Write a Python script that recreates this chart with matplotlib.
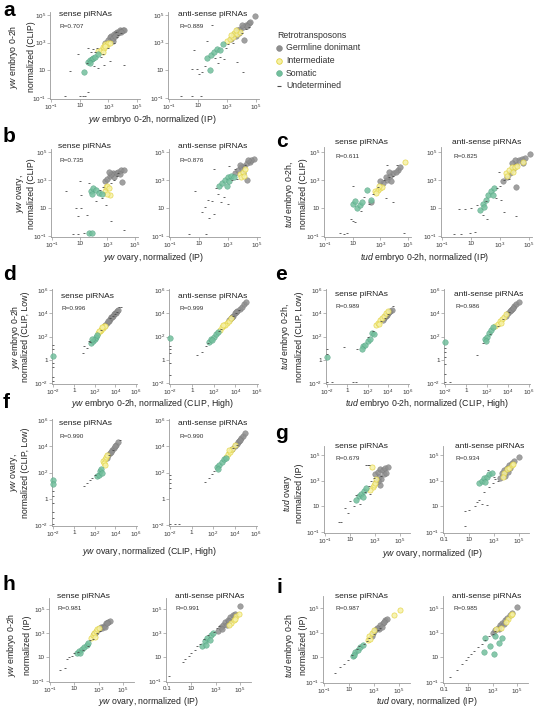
import numpy as np
import matplotlib
matplotlib.use("Agg")
import matplotlib.pyplot as plt
from matplotlib.lines import Line2D

plt.rcParams['font.family'] = 'Liberation Sans'
plt.rcParams['mathtext.fontset'] = 'custom'
plt.rcParams['mathtext.rm'] = 'Liberation Sans'
plt.rcParams['mathtext.it'] = 'Liberation Sans:italic'

# values are log10 (x, y) pairs
A_S_GERM = [(2.8, 3.0), (3.0, 3.2), (3.1, 3.4), (3.2, 3.5), (3.3, 3.1), (3.4, 3.6), (3.5, 3.7), (3.6, 3.8),
            (3.7, 3.7), (3.8, 3.9), (3.9, 3.85), (4.0, 3.9), (4.1, 3.95), (3.85, 3.75), (3.3, 3.35), (3.45, 3.45)]
A_S_INT = [(2.3, 2.4), (2.5, 2.5), (2.6, 2.7), (2.7, 2.6), (2.8, 2.9), (2.9, 2.8), (3.0, 2.95), (3.1, 3.0),
           (2.6, 2.35), (2.75, 2.75)]
A_S_SOM = [(1.3, 0.9), (1.6, 1.6), (1.7, 1.75), (1.85, 1.8), (1.95, 1.9), (2.1, 2.0), (2.25, 2.15), (1.75, 1.5)]
A_S_UND = [(0.85, 2.2), (0.3, 0.95), (1.6, 2.6), (1.9, 2.55), (2.1, 2.3), (2.5, 2.0), (3.1, 1.7), (2.7, 1.4),
           (4.1, 1.4), (2.3, 1.2), (1.5, 1.5), (2.0, 1.3), (0.0, -0.85), (1.2, -0.85), (1.35, -0.85),
           (1.55, -0.6), (1.0, -0.85), (2.6, 2.2), (3.0, 2.6), (3.4, 3.0), (3.6, 3.4), (3.7, 3.55), (2.2, 2.6),
           (1.8, 2.3), (3.5, 3.75), (3.9, 3.7)]

A_A_GERM = [(4.9, 4.95), (4.2, 3.2), (3.3, 3.3), (3.5, 3.6), (3.7, 3.9), (3.9, 4.0), (4.1, 4.1), (4.3, 4.3),
            (4.5, 4.4), (4.6, 4.5), (4.4, 4.2), (3.8, 3.7), (4.0, 4.3), (3.6, 3.5)]
A_A_INT = [(3.0, 3.1), (3.2, 3.3), (3.4, 3.4), (3.5, 3.7), (3.7, 3.6), (3.9, 3.8), (3.3, 3.55), (3.6, 3.9)]
A_A_SOM = [(1.6, 1.9), (1.9, 2.1), (2.1, 2.3), (2.3, 2.55), (2.5, 2.5), (2.7, 2.9), (1.85, 1.05)]
A_A_UND = [(0.7, 2.5), (1.6, 3.1), (1.95, 4.3), (0.6, 1.1), (0.9, 1.1), (1.1, 0.75), (1.3, 0.9), (4.1, 0.85),
           (3.7, 1.6), (2.8, 1.8), (2.5, 2.0), (-0.2, -0.85), (0.6, -0.85), (1.2, -0.85), (2.4, 1.5),
           (2.2, 1.9), (3.1, 2.9), (3.4, 3.0), (4.0, 3.7), (4.3, 4.0), (4.5, 4.1), (2.9, 2.6), (1.5, 1.3)]

B_S_GERM = [(2.8, 2.9), (3.0, 3.1), (3.2, 3.3), (3.4, 3.5), (3.6, 3.5), (3.8, 3.6), (4.0, 3.7), (4.2, 3.7),
            (4.07, 2.87), (3.5, 3.2), (3.3, 3.45), (3.9, 3.4), (3.1, 3.6)]
B_S_INT = [(2.8, 2.2), (2.9, 2.5), (3.0, 2.6), (3.1, 2.4), (3.2, 1.9), (2.95, 2.0)]
B_S_SOM = [(1.8, 2.2), (2.0, 2.4), (2.2, 2.3), (2.4, 2.1), (2.6, 2.0), (1.9, 2.0), (1.7, -0.75), (1.9, -0.8)]
B_S_UND = [(1.0, 2.9), (1.1, 1.9), (1.1, 1.0), (0.7, 1.0), (0.9, 0.4), (1.5, 0.5), (2.6, 1.7), (2.9, 1.2),
           (3.3, 0.1), (4.2, -0.6), (0.5, -0.85), (0.9, -0.85), (1.3, -0.8), (0.0, 2.2), (1.7, 2.8),
           (2.2, 1.5), (2.5, 2.3), (3.3, 2.8), (3.5, 3.0), (3.7, 3.3), (3.8, 3.5), (2.7, 2.5)]

B_A_GERM = [(4.8, 4.5), (3.5, 3.5), (3.7, 3.7), (3.9, 3.9), (4.1, 4.0), (4.3, 4.2), (4.5, 4.3), (4.6, 4.4),
            (4.3, 3.0), (4.0, 3.5), (3.8, 4.1), (4.4, 4.4)]
B_A_INT = [(3.8, 3.4), (4.0, 3.6), (4.2, 3.8), (3.9, 3.2), (4.1, 3.3)]
B_A_SOM = [(2.4, 2.6), (2.6, 2.8), (2.8, 3.0), (3.0, 3.2), (3.2, 3.3), (3.4, 3.2), (2.9, 2.6), (3.1, 2.9)]
B_A_UND = [(0.7, 2.2), (1.6, 1.6), (1.4, 1.1), (2.0, 0.6), (1.7, 0.3), (1.2, 0.7), (2.3, 2.0), (2.7, 1.8),
           (3.0, 1.3), (2.5, 1.4), (1.5, -0.85), (0.3, -0.85), (2.0, 3.8), (3.1, 4.0), (3.6, 3.1), (3.3, 3.0),
           (2.2, 2.4), (3.5, 3.8), (4.2, 4.1), (1.9, 1.5)]

C_S_GERM = [(4.3, 3.7), (3.7, 3.3), (3.5, 3.0), (3.9, 3.5), (4.1, 3.6), (3.2, 2.8), (3.4, 3.2), (2.3, 1.45),
            (3.6, 3.6), (3.0, 2.9), (4.4, 3.9), (3.8, 2.9)]
C_S_INT = [(4.8, 4.3), (2.6, 2.2), (2.8, 2.3), (3.0, 2.4), (3.1, 2.5), (2.7, 2.1), (2.9, 2.6)]
C_S_SOM = [(2.0, 2.3), (1.05, 1.3), (1.3, 1.0), (1.5, 1.2), (1.7, 1.4), (2.3, 1.6), (1.2, 1.5)]
C_S_UND = [(0.9, 0.2), (1.05, 0.1), (1.2, 0.0), (1.6, 0.8), (2.2, 1.3), (3.4, 1.7), (3.9, 1.4), (4.7, -0.8),
           (0.1, -0.8), (0.4, -0.85), (0.6, -0.75), (3.5, 4.1), (4.2, 4.1), (1.0, 2.6), (2.5, 2.0), (2.8, 2.5),
           (3.3, 3.0), (3.6, 3.2), (3.9, 3.3), (1.8, 1.8)]

C_A_GERM = [(5.07, 4.88), (4.3, 4.4), (4.1, 2.5), (3.2, 2.9), (3.5, 3.2), (3.7, 3.5), (3.9, 3.8), (4.1, 4.1),
            (4.5, 4.5), (4.7, 4.6), (4.6, 4.2), (4.0, 4.4), (3.8, 4.2)]
C_A_INT = [(3.4, 3.5), (3.6, 3.7), (3.8, 3.9), (4.0, 3.9), (4.2, 4.0), (3.9, 3.6), (4.6, 4.3), (3.5, 3.3)]
C_A_SOM = [(1.6, 0.85), (1.8, 1.3), (2.0, 1.6), (2.2, 1.9), (2.4, 2.2), (2.6, 2.4), (1.9, 1.1), (2.5, 1.9)]
C_A_UND = [(0.2, 0.9), (0.6, 0.9), (1.0, 1.0), (1.4, 1.2), (2.0, 1.5), (2.7, 1.7), (3.3, 0.7), (4.1, 0.4),
           (2.1, 0.2), (-0.2, -0.85), (0.3, -0.85), (0.9, -0.8), (1.3, -0.7), (2.8, 2.4), (3.0, 2.6),
           (3.3, 3.0), (3.6, 3.1), (2.9, 3.6), (3.1, 1.6), (1.8, 0.5)]

D_S_GERM = [(3.0, 3.0), (3.2, 3.2), (3.4, 3.35), (3.5, 3.5), (3.6, 3.65), (3.7, 3.7), (3.8, 3.8), (3.9, 3.9),
            (4.0, 4.0), (4.1, 4.05), (4.2, 4.2), (4.3, 4.25), (3.3, 3.3)]
D_S_INT = [(2.3, 2.3), (2.5, 2.45), (2.6, 2.6), (2.7, 2.7), (2.8, 2.75), (2.9, 2.9), (3.0, 2.9), (2.4, 2.5),
           (2.75, 2.8)]
D_S_SOM = [(1.7, 1.4), (1.9, 1.6), (2.0, 1.75), (2.1, 2.0), (2.2, 2.1), (1.8, 1.8), (-2.0, 0.3)]
D_S_UND = [(4.4, 4.5), (4.6, 4.55), (1.0, 1.2), (1.3, 1.0), (1.5, 1.6), (0.9, 0.6), (-2.0, 1.3), (-2.0, 0.9),
           (-2.0, -0.3), (-2.0, -0.6), (-2.0, -1.5), (-2.0, -1.8), (1.6, 1.5), (3.5, 3.6), (3.8, 3.75),
           (4.0, 3.95), (4.2, 4.1), (2.6, 2.55)]

D_A_GERM = [(3.4, 3.4), (3.6, 3.6), (3.8, 3.8), (4.0, 4.0), (4.2, 4.2), (4.4, 4.4), (4.6, 4.55), (4.8, 4.8),
            (5.0, 5.0), (3.7, 3.65), (4.1, 4.1)]
D_A_INT = [(2.6, 2.6), (2.8, 2.8), (3.0, 3.0), (3.2, 3.2), (3.4, 3.35), (3.6, 3.55), (3.1, 3.0), (2.9, 2.95)]
D_A_SOM = [(1.6, 1.5), (1.8, 1.8), (2.0, 2.0), (2.2, 2.2), (2.4, 2.35), (1.9, 1.7), (-2.0, 1.9)]
D_A_UND = [(0.5, 0.4), (0.9, 0.7), (1.3, 1.2), (1.5, 1.4), (-2.0, 1.2), (-2.0, 0.9), (-2.0, 0.6),
           (-2.0, -0.3), (-2.0, -1.3), (3.8, 3.75), (4.1, 4.05), (4.3, 4.3), (2.5, 2.5), (2.7, 2.65)]

E_S_GERM = [(3.6, 3.6), (3.8, 3.8), (4.0, 4.0), (4.2, 4.2), (4.4, 4.3), (3.9, 3.85), (3.7, 3.75), (4.1, 4.1),
            (3.5, 3.45)]
E_S_INT = [(2.8, 3.0), (3.0, 3.2), (3.2, 3.4), (3.4, 3.6), (3.6, 3.8), (3.8, 4.0), (4.0, 4.2), (3.1, 3.1)]
E_S_SOM = [(1.6, 1.2), (1.8, 1.3), (2.0, 1.6), (2.2, 1.8), (2.4, 2.3), (2.6, 2.2), (-2.0, 0.2), (1.5, 0.9)]
E_S_UND = [(-0.3, 1.1), (1.0, 0.9), (2.0, 2.0), (2.5, 2.5), (-2.0, 0.5), (-2.0, 0.9), (-2.0, -1.9),
           (-1.5, -1.9), (0.6, -1.9), (0.9, -1.9), (3.3, 3.3), (3.7, 3.6), (4.5, 4.6), (4.0, 3.9)]

E_A_GERM = [(4.0, 4.0), (4.2, 4.2), (4.4, 4.4), (4.6, 4.6), (4.8, 4.8), (5.0, 5.0), (4.3, 4.25), (4.5, 4.45),
            (3.8, 3.8)]
E_A_INT = [(2.8, 2.9), (3.0, 3.1), (3.2, 3.3), (3.4, 3.5), (3.6, 3.7), (3.8, 3.9), (3.3, 3.2)]
E_A_SOM = [(1.8, 1.8), (2.0, 2.0), (2.2, 2.3), (2.4, 2.6), (2.6, 2.8), (1.9, 1.6), (-2.0, 1.5)]
E_A_UND = [(1.0, 0.4), (1.6, 1.4), (2.3, 2.2), (-2.0, 1.0), (-2.0, 0.7), (-2.0, 0.2), (-2.0, -0.4),
           (-2.0, -1.2), (-2.0, -1.9), (-1.5, -1.9), (3.5, 3.5), (4.1, 4.1), (3.0, 2.9)]

F_S_GERM = [(3.3, 3.3), (3.5, 3.5), (3.7, 3.7), (3.9, 3.9), (4.1, 4.1), (4.3, 4.3), (3.6, 3.6), (4.0, 4.0),
            (3.2, 3.1)]
F_S_INT = [(2.8, 2.9), (3.0, 3.0), (3.1, 3.2), (2.9, 2.7), (3.2, 3.3), (3.0, 2.6)]
F_S_SOM = [(2.2, 1.7), (2.4, 1.8), (2.5, 2.1), (2.6, 2.3), (2.7, 2.0), (-2.0, 1.4), (-2.0, 1.1)]
F_S_UND = [(1.0, 1.0), (1.3, 1.2), (1.6, 1.4), (1.8, 1.6), (2.0, 1.8), (-2.0, 0.6), (-2.0, 0.2), (-2.0, -0.3),
           (-2.0, -1.0), (-2.0, -1.5), (-2.0, -1.9), (4.5, 4.5), (3.4, 3.35), (3.8, 3.75)]

F_A_GERM = [(4.0, 4.0), (4.2, 4.2), (4.4, 4.4), (4.6, 4.6), (4.8, 4.8), (5.0, 5.0), (4.3, 4.3), (4.5, 4.5),
            (3.8, 3.8)]
F_A_INT = [(3.2, 3.2), (3.4, 3.4), (3.6, 3.6), (3.8, 3.8), (4.0, 4.1), (3.5, 3.7)]
F_A_SOM = [(2.4, 2.4), (2.6, 2.6), (2.8, 2.8), (3.0, 3.0), (3.2, 3.1), (2.5, 2.3)]
F_A_UND = [(1.3, 1.3), (1.6, 1.6), (1.9, 1.9), (2.1, 2.1), (-2.0, 1.8), (-2.0, 1.5), (-2.0, 1.2), (-2.0, 0.8),
           (-1.5, -1.9), (-1.2, -1.9), (-2.0, -1.9), (3.9, 3.9), (4.2, 4.1)]

G_S_GERM = [(3.0, 3.5), (3.2, 3.7), (3.4, 3.9), (3.6, 3.8), (3.8, 3.95), (4.0, 4.1), (3.3, 3.3), (3.5, 3.1),
            (3.1, 2.9), (3.7, 3.5), (3.9, 3.6), (3.4, 2.7), (3.2, 3.0)]
G_S_INT = [(2.76, 4.1), (2.8, 2.5), (2.9, 2.7), (3.0, 2.8), (2.6, 2.3), (3.1, 3.1)]
G_S_SOM = [(1.7, 1.8), (1.9, 2.0), (2.1, 2.2), (2.3, 2.4), (1.5, 1.5), (2.0, 1.7)]
G_S_UND = [(2.3, 4.2), (2.4, 4.2), (2.5, 4.2), (1.0, 1.4), (0.6, 0.9), (0.1, -0.2), (0.3, -0.2), (1.3, 1.0),
           (1.8, 1.2), (2.2, 2.1), (2.5, 2.6), (2.7, 3.0), (2.9, 3.2), (1.5, 1.9), (0.8, 0.5), (2.6, 2.0),
           (3.5, 3.4)]

G_A_GERM = [(5.0, 4.85), (3.6, 3.6), (3.8, 3.8), (4.0, 4.0), (4.2, 4.2), (4.4, 4.4), (4.6, 4.5), (4.1, 3.7),
            (3.9, 3.4), (4.3, 4.0), (3.5, 3.2)]
G_A_INT = [(3.8, 3.6), (4.0, 3.9), (4.2, 4.0), (4.4, 4.2), (3.7, 3.3), (4.5, 4.3)]
G_A_SOM = [(1.8, 2.8), (2.0, 3.0), (2.2, 3.2), (2.4, 3.3), (2.6, 3.5), (2.8, 3.6), (2.3, 2.9)]
G_A_UND = [(0.7, 0.6), (1.5, 1.0), (1.6, 1.3), (1.8, 1.5), (2.0, 1.2), (2.4, 1.1), (0.7, -0.5), (1.0, 0.7),
           (2.2, 2.1), (2.6, 2.5), (2.9, 2.8), (3.1, 3.1), (3.3, 3.0), (2.5, 3.8), (3.0, 3.3)]

H_S_GERM = [(2.6, 2.9), (2.8, 3.1), (3.0, 3.3), (3.2, 3.5), (3.4, 3.6), (3.6, 3.8), (3.8, 3.9), (3.9, 4.0),
            (3.3, 3.4), (3.5, 3.5), (3.7, 3.85), (2.7, 3.0)]
H_S_INT = [(2.4, 2.6), (2.5, 2.8), (2.6, 3.0), (2.8, 3.2), (2.9, 3.3), (2.7, 2.7), (3.0, 3.4)]
H_S_SOM = [(1.2, 1.3), (1.4, 1.5), (1.6, 1.7), (1.8, 1.8), (2.0, 2.0), (2.1, 2.2), (1.5, 1.3)]
H_S_UND = [(-0.2, -0.1), (0.2, 0.1), (0.6, 1.0), (0.8, 1.1), (1.0, 1.3), (1.3, 1.4), (1.7, 1.6), (2.1, 1.9),
           (2.3, 2.4), (2.5, 2.5), (2.9, 3.0), (3.1, 3.2), (0.4, 0.8)]

H_A_GERM = [(5.0, 5.25), (3.2, 3.2), (3.4, 3.5), (3.6, 3.7), (3.8, 3.9), (4.0, 4.1), (4.2, 4.3), (4.4, 4.5),
            (4.6, 4.6), (3.5, 3.3), (3.9, 3.7), (4.1, 4.0)]
H_A_INT = [(4.3, 3.8), (4.5, 4.1), (4.7, 4.4), (4.9, 4.6), (4.1, 3.7), (4.6, 4.2)]
H_A_SOM = [(1.9, 1.9), (2.1, 2.3), (2.3, 2.6), (2.6, 2.8), (2.8, 3.0), (2.5, 2.4), (2.2, 2.0)]
H_A_UND = [(-0.8, -0.6), (0.3, 0.6), (0.5, 0.8), (0.8, 1.1), (1.0, 1.3), (1.3, 1.6), (1.5, 1.9), (1.7, 2.1),
           (2.0, 2.5), (2.4, 2.8), (2.9, 3.1), (3.1, 3.4), (3.3, 3.6)]

I_S_GERM = [(2.9, 3.0), (3.1, 3.2), (3.3, 3.4), (3.5, 3.6), (3.7, 3.8), (3.9, 4.0), (4.0, 4.1), (3.4, 3.3),
            (3.6, 3.5), (3.8, 3.9), (2.8, 2.7), (3.2, 3.4)]
I_S_INT = [(5.1, 4.85), (2.5, 2.4), (2.6, 2.7), (2.8, 3.0), (3.0, 3.2), (2.7, 2.5), (4.6, 4.4)]
I_S_SOM = [(1.3, 1.1), (1.5, 1.4), (1.7, 1.6), (1.9, 1.8), (2.1, 2.0), (1.4, 1.2)]
I_S_UND = [(-0.1, -0.3), (0.3, 0.2), (0.6, 0.5), (0.9, 0.8), (1.2, 1.2), (1.6, 1.7), (1.8, 1.9), (2.2, 2.1),
           (2.4, 2.3), (2.6, 2.6), (3.0, 2.9), (3.3, 3.2), (3.5, 3.4)]

I_A_GERM = [(5.0, 5.1), (3.0, 3.0), (3.2, 3.2), (3.4, 3.4), (3.6, 3.6), (3.8, 3.8), (4.0, 4.0), (4.2, 4.2),
            (4.4, 4.4), (4.6, 4.6), (3.5, 3.3), (3.9, 3.7)]
I_A_INT = [(4.3, 4.1), (4.5, 4.4), (4.6, 4.5), (3.7, 3.4), (3.3, 3.3), (4.1, 3.9)]
I_A_SOM = [(2.4, 2.6), (2.8, 1.9), (3.1, 1.3), (3.8, 2.6), (3.5, 2.2), (2.3, 1.4), (3.2, 2.7)]
I_A_UND = [(-0.5, -0.6), (0.1, 0.0), (0.5, 0.5), (0.8, 0.8), (1.0, 1.0), (1.2, 1.3), (1.5, 1.5), (1.8, 1.8),
           (2.1, 2.1), (2.4, 2.4), (2.7, 2.7), (3.0, 2.9), (3.2, 3.1)]

R_VALUES = {'a': ('0.707', '0.889'), 'b': ('0.735', '0.876'), 'c': ('0.611', '0.825'),
            'd': ('0.996', '0.999'), 'e': ('0.989', '0.986'), 'f': ('0.990', '0.990'),
            'g': ('0.679', '0.934'), 'h': ('0.981', '0.991'), 'i': ('0.987', '0.985')}

YW = r'$\mathit{yw}$'
TUD = r'$\mathit{tud}$'
Y_LABELS = {'a': (YW + ' embryo 0-2h', 'normalized (CLIP)'),
            'b': (YW + ' ovary,', 'normalized (CLIP)'),
            'c': (TUD + ' embryo 0-2h,', 'normalized (CLIP)'),
            'd': (YW + ' embryo 0-2h', 'normalized (CLIP, Low)'),
            'e': (TUD + ' embryo 0-2h,', 'normalized (CLIP, Low)'),
            'f': (YW + ' ovary,', 'normalized (CLIP, Low)'),
            'g': (TUD + ' ovary', 'normalized (IP)'),
            'h': (YW + ' embryo 0-2h', 'normalized (IP)'),
            'i': (TUD + ' embryo 0-2h', 'normalized (IP)')}
X_LABELS = {'a': YW + ' embryo 0-2h, normalized (IP)',
            'b': YW + ' ovary, normalized (IP)',
            'c': TUD + ' embryo 0-2h, normalized (IP)',
            'd': YW + ' embryo 0-2h, normalized (CLIP, High)',
            'e': TUD + ' embryo 0-2h, normalized (CLIP, High)',
            'f': YW + ' ovary, normalized (CLIP, High)',
            'g': YW + ' ovary, normalized (IP)',
            'h': YW + ' ovary, normalized (IP)',
            'i': TUD + ' ovary, normalized (IP)'}

TICKS_WIDE = [-1, 1, 3, 5]
TICKS_CLIP = [-2, 0, 2, 4, 6]

DATA = {'a': ((A_S_GERM, A_S_INT, A_S_SOM, A_S_UND), (A_A_GERM, A_A_INT, A_A_SOM, A_A_UND)),
        'b': ((B_S_GERM, B_S_INT, B_S_SOM, B_S_UND), (B_A_GERM, B_A_INT, B_A_SOM, B_A_UND)),
        'c': ((C_S_GERM, C_S_INT, C_S_SOM, C_S_UND), (C_A_GERM, C_A_INT, C_A_SOM, C_A_UND)),
        'd': ((D_S_GERM, D_S_INT, D_S_SOM, D_S_UND), (D_A_GERM, D_A_INT, D_A_SOM, D_A_UND)),
        'e': ((E_S_GERM, E_S_INT, E_S_SOM, E_S_UND), (E_A_GERM, E_A_INT, E_A_SOM, E_A_UND)),
        'f': ((F_S_GERM, F_S_INT, F_S_SOM, F_S_UND), (F_A_GERM, F_A_INT, F_A_SOM, F_A_UND)),
        'g': ((G_S_GERM, G_S_INT, G_S_SOM, G_S_UND), (G_A_GERM, G_A_INT, G_A_SOM, G_A_UND)),
        'h': ((H_S_GERM, H_S_INT, H_S_SOM, H_S_UND), (H_A_GERM, H_A_INT, H_A_SOM, H_A_UND)),
        'i': ((I_S_GERM, I_S_INT, I_S_SOM, I_S_UND), (I_A_GERM, I_A_INT, I_A_SOM, I_A_UND))}

# ---- layout (pixels in a 544x709 canvas) ----
W, H = 544, 709
# y geometry: (low tick, px, high tick, px, lim lo, lim hi)
ROW_Y = {'a': (-1, 98, 5, 15, -1.05, 5.25), 'b': (-1, 236, 5, 152, -1.05, 5.25),
         'c': (-1, 236, 5, 152, -1.05, 5.35), 'd': (-2, 383, 6, 290, -2.05, 6.1),
         'e': (-2, 383, 6, 290, -2.05, 6.1), 'f': (-2, 525, 6, 420, -2.05, 6.1),
         'g': (-1, 532, 5, 455, -1.05, 5.7), 'h': (-1, 681, 5, 609, -1.05, 5.95),
         'i': (-1, 682, 5, 608, -1.05, 5.95)}
# x geometry for sense / anti-sense axes
PANEL_X = {'a': ((-1, 51, 5, 137, -1.05, 5.2), (-1, 169, 5, 256, -1.05, 5.2)),
           'b': ((-1, 52, 5, 135, -1.05, 5.2), (-1, 170, 5, 257, -1.05, 5.2)),
           'c': ((-1, 325, 5, 408, -1.05, 5.2), (-1, 442, 5, 529, -1.05, 5.2)),
           'd': ((-2, 53, 6, 136, -2.05, 6.1), (-2, 170, 6, 257, -2.05, 6.1)),
           'e': ((-2, 327, 6, 408, -2.05, 6.1), (-2, 445, 6, 529, -2.05, 6.1)),
           'f': ((-2, 53, 6, 136, -2.05, 6.1), (-2, 170, 6, 256, -2.05, 6.1)),
           'g': ((-1, 325, 5, 400, -1.05, 5.8), (-1, 444, 5, 519, -1.05, 5.8)),
           'h': ((-1, 50, 5, 123, -1.05, 5.9), (-1, 167, 5, 240, -1.05, 5.9)),
           'i': ((-1, 324, 5, 399, -1.05, 5.9), (-1, 444, 5, 517, -1.05, 5.9))}
# title y, R y, title x (sense, anti)
TITLE_POS = {'a': (15, 27, 59, 178), 'b': (147, 160, 58, 178), 'c': (143, 157, 335, 452),
             'd': (297, 309, 61, 178), 'e': (294, 306, 335, 454), 'f': (424, 436, 59, 178),
             'g': (447, 459, 335, 455), 'h': (597, 608, 57, 175), 'i': (597, 608, 335, 452)}
YLAB_POS = {'a': (13, 31), 'b': (20, 32), 'c': (290, 304), 'd': (15, 26), 'e': (285, 299),
            'f': (14, 26), 'g': (287, 299), 'h': (11, 28), 'i': (289, 304)}
XLAB_POS = {'a': (152, 119), 'b': (153, 258), 'c': (425, 258), 'd': (152, 403), 'e': (427, 403),
            'f': (149, 552), 'g': (432, 554), 'h': (148, 702), 'i': (427, 702)}
LETTER_POS = {'a': (3, 1), 'b': (3, 127), 'c': (276, 132), 'd': (3, 265), 'e': (275, 265),
              'f': (3, 393), 'g': (275, 424), 'h': (3, 575), 'i': (276, 578)}

GERM_C = '#8f8f8f'
INT_FACE, INT_EDGE = '#f6f1a6', '#e2d23c'
SOM_FACE, SOM_EDGE = '#72bf9c', '#4b9e7d'
UND_C = '#4a4a4a'
SPINE_C = '#9a9a9a'

fig = plt.figure(figsize=(W / 100, H / 100), dpi=100)


def ftext(x, y, s, **kw):
    fig.text(x / W, 1 - y / H, s, **kw)


def add_ax(xg, yg):
    t0, p0, t1, p1, lo, hi = xg
    s = (p1 - p0) / (t1 - t0)
    left = p0 - (t0 - lo) * s
    right = p0 + (hi - t0) * s
    u0, q0, u1, q1, ylo, yhi = yg
    sy = (q0 - q1) / (u1 - u0)
    bottom = q0 + (u0 - ylo) * sy
    top = q0 - (yhi - u0) * sy
    ax = fig.add_axes([left / W, 1 - bottom / H, (right - left) / W, (bottom - top) / H])
    ax.set_xscale('log')
    ax.set_yscale('log')
    ax.set_xlim(10 ** lo, 10 ** hi)
    ax.set_ylim(10 ** ylo, 10 ** yhi)
    return ax


def tick_label(e, decimal=False):
    if e == 0:
        return '1'
    if e == 1:
        return '10'
    if e == -1 and decimal:
        return '0.1'
    return '$10^{%d}$' % e


def style_ax(ax, xt, yt, xdec=False):
    for side in ['top', 'right']:
        ax.spines[side].set_visible(False)
    for side in ['left', 'bottom']:
        ax.spines[side].set_color(SPINE_C)
        ax.spines[side].set_linewidth(0.6)
    ax.set_xticks([10.0 ** e for e in xt])
    ax.set_xticklabels([tick_label(e, xdec) for e in xt])
    ax.set_yticks([10.0 ** e for e in yt])
    ax.set_yticklabels([tick_label(e) for e in yt])
    ax.minorticks_off()
    ax.tick_params(direction='out', length=2, width=0.5, color=SPINE_C, labelsize=4.5,
                   labelcolor='#333333', pad=1.2)


def draw(ax, groups):
    germ, inter, som, und = [np.array(g, dtype=float) for g in groups]
    ax.scatter(10 ** germ[:, 0], 10 ** germ[:, 1], s=16, c=GERM_C, edgecolors='#777777',
               linewidths=0.3, alpha=0.85, clip_on=False, zorder=2)
    ax.scatter(10 ** inter[:, 0], 10 ** inter[:, 1], s=14, c=INT_FACE, edgecolors=INT_EDGE,
               linewidths=0.5, alpha=0.85, clip_on=False, zorder=3)
    ax.scatter(10 ** som[:, 0], 10 ** som[:, 1], s=16, c=SOM_FACE, edgecolors=SOM_EDGE,
               linewidths=0.3, alpha=0.85, clip_on=False, zorder=3)
    ax.scatter(10 ** und[:, 0], 10 ** und[:, 1], s=2.5, c=UND_C, marker='_', linewidths=0.6,
               clip_on=False, zorder=4)


for key in 'abcdefghi':
    clip = key in 'def'
    ticks = TICKS_CLIP if clip else TICKS_WIDE
    ty, ry, tx_s, tx_a = TITLE_POS[key]
    for side in range(2):
        ax = add_ax(PANEL_X[key][side], ROW_Y[key])
        style_ax(ax, ticks, ticks, xdec=(side == 1 and key in 'ghi'))
        draw(ax, DATA[key][side])
        tx = tx_s if side == 0 else tx_a
        ftext(tx, ty, 'sense piRNAs' if side == 0 else 'anti-sense piRNAs', fontsize=6,
              va='center', ha='left', color='#222222')
        ftext(tx + 1, ry, 'R=' + R_VALUES[key][side], fontsize=4.6, va='center', ha='left',
              color='#333333')
    yc = (ROW_Y[key][1] + ROW_Y[key][3]) / 2
    l1, l2 = Y_LABELS[key]
    x1, x2 = YLAB_POS[key]
    ftext(x1, yc, l1, rotation=90, fontsize=6.3, ha='center', va='center', color='#222222')
    ftext(x2, yc, l2, rotation=90, fontsize=6.3, ha='center', va='center', color='#222222')
    xx, xy = XLAB_POS[key]
    ftext(xx, xy, X_LABELS[key], fontsize=6.3, ha='center', va='center', color='#222222')
    lx, ly = LETTER_POS[key]
    ftext(lx, ly, key, fontsize=15, fontweight='bold', ha='left', va='top', color='black')

# legend
ftext(277, 35, 'Retrotransposons', fontsize=6.3, va='center', ha='left', color='#333333')
LEGEND = [('Germline donimant', dict(marker='o', markersize=4.2, markerfacecolor=GERM_C,
                                     markeredgecolor='#777777', markeredgewidth=0.3)),
          ('Intermediate', dict(marker='o', markersize=4.0, markerfacecolor=INT_FACE,
                                markeredgecolor=INT_EDGE, markeredgewidth=0.6)),
          ('Somatic', dict(marker='o', markersize=4.2, markerfacecolor=SOM_FACE,
                           markeredgecolor=SOM_EDGE, markeredgewidth=0.3)),
          ('Undetermined', dict(marker='_', markersize=2.5, markeredgecolor=UND_C,
                                markeredgewidth=0.8))]
for i, (name, mk) in enumerate(LEGEND):
    y = 48 + i * 12.6
    fig.add_artist(Line2D([279 / W], [1 - y / H], linestyle='none', transform=fig.transFigure, **mk))
    ftext(286, y, name, fontsize=6.3, va='center', ha='left', color='#333333')

fig.savefig('out.png', dpi=100)
